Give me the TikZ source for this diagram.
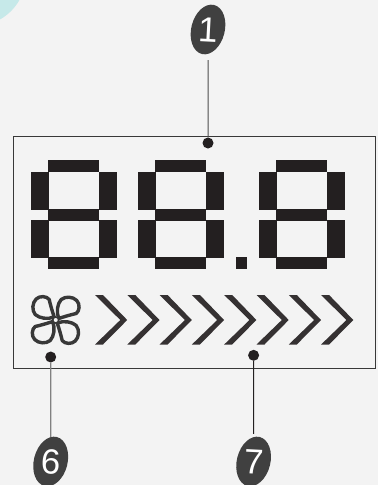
\documentclass[tikz,border=0pt]{standalone}
\usepackage{fontspec}
\usepackage{graphicx}
\setmainfont{Liberation Sans}
\usetikzlibrary{shapes.geometric}
\definecolor{bgc}{HTML}{F3F3F3}
\definecolor{segc}{HTML}{231F20}
\definecolor{badgec}{HTML}{404040}
\definecolor{tealc}{HTML}{C6E9E9}
\tikzset{
 seg/.style={fill=segc,draw=none},
 badge/.style={ellipse,fill=badgec,draw=none,minimum width=33pt,minimum height=50.5pt,inner sep=0pt,rotate=-14,text=white,font=\fontsize{35pt}{35pt}\selectfont},
 pin/.style={circle,fill=segc,draw=none,minimum size=11pt,inner sep=0pt},
 chev/.style={fill=segc!92!white,draw=none},
 fanline/.style={draw=black!78,line width=3.4pt,line join=round},
}
\begin{document}
\begin{tikzpicture}[x=1pt,y=-1pt]
\useasboundingbox (0,0) rectangle (378,485);
\fill[bgc] (0,0) rectangle (378,485);
\begin{scope}
\clip (0,0) rectangle (378,485);
\fill[tealc] (-25,-25) circle (51);
\end{scope}
% display box
\draw[draw=black!78,line width=1pt] (13.5,136.5) rectangle (375,368.3);
% digits
\foreach \d in {0,107,228}{
 \begin{scope}[xshift=\d pt]
  \fill[seg] (48,160) rectangle (99,172);
  \fill[seg] (31,172) rectangle (49,210);
  \fill[seg] (99,172) rectangle (117,210);
  \fill[seg] (48,209) rectangle (99,221);
  \fill[seg] (31,220) rectangle (49,258);
  \fill[seg] (99,220) rectangle (117,258);
  \fill[seg] (48,257) rectangle (99,269);
 \end{scope}
}
\fill[seg] (236,257) rectangle (247,269);
% chevrons
\foreach \i in {0,...,7}{
 \fill[chev,xshift=\i*32.3pt] (95,295) -- (103,295) -- (127.2,320) -- (103,344.5) -- (95,344.5) -- (120.3,320) -- cycle;
}
% fan
\begin{scope}[shift={(55.7,320)}]
 \foreach \r in {0,90,180,270}{
  \draw[fanline,rotate=\r] (-1.5,-3) .. controls (-3.5,-9) and (-5,-14) .. (-6.5,-20.5) .. controls (-9,-24) and (-16,-24.5) .. (-19.5,-21) .. controls (-23.5,-17) and (-24,-10) .. (-20.5,-5.5) .. controls (-16,-1.5) and (-8,-0.5) .. (-1.5,-3) -- cycle;
 }
 \draw[draw=black!78,fill=bgc,line width=1.6pt] (0,0) circle (3);
\end{scope}
% pins and badges
\node[pin] (d1) at (208,143) {};
\node[pin] (d6) at (50.7,357) {};
\node[pin] (d7) at (253.6,355.3) {};
\node[badge] (b1) at (208,29.5) {\rotatebox{11}{1}};
\node[badge] (b6) at (50.7,461.5) {\rotatebox{11}{6}};
\node[badge] (b7) at (253.6,461.5) {\rotatebox{11}{7}};
\draw[draw=black!70,line width=1pt,shorten >=6pt] (d1) -- (b1);
\draw[draw=black!50,line width=1.2pt] (d6) -- (b6);
\draw[draw=segc,line width=1pt,shorten >=3pt] (d7) -- (b7);
\end{tikzpicture}
\end{document}
